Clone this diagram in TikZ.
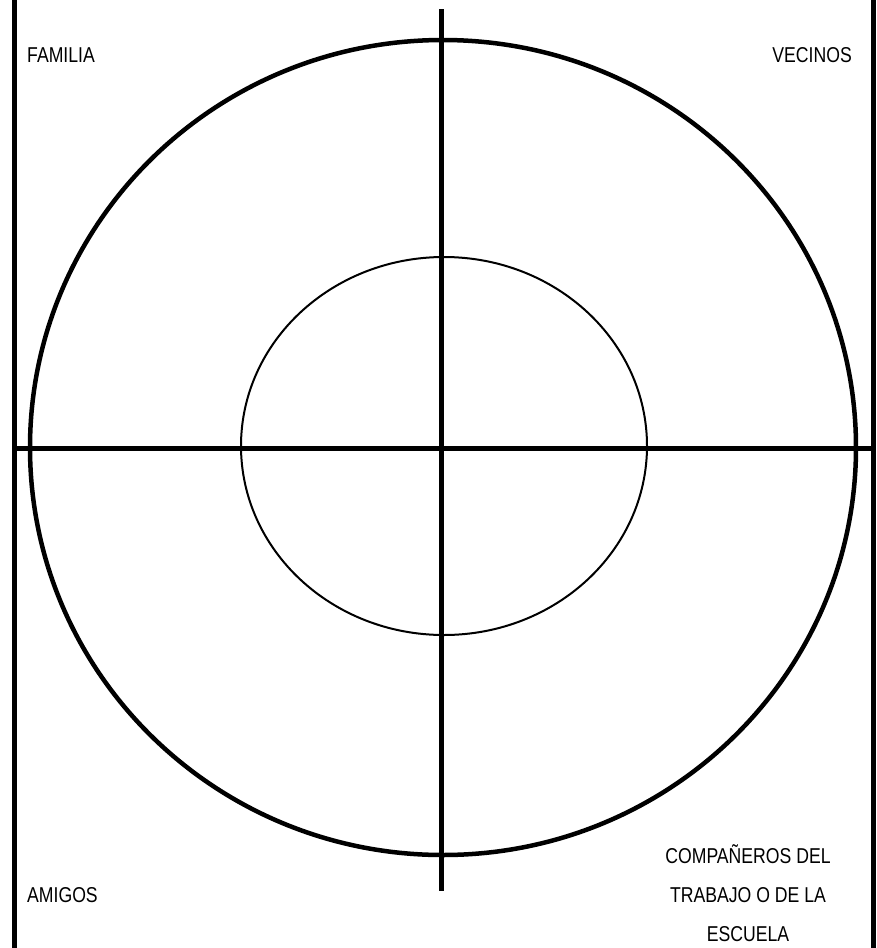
\documentclass[tikz,border=0pt]{standalone}
\usepackage{fontspec}
\setmainfont{Liberation Sans}[FakeStretch=0.82]
\usetikzlibrary{positioning}
\tikzset{
  mapframe/.style={line width=5pt,draw=black},
  mapaxis/.style={line width=5pt,draw=black},
  mapring/.style={line width=4.5pt,draw=black},
  mapcore/.style={line width=2pt,draw=black},
  maplabel/.style={inner sep=0pt,font=\fontsize{21.5}{39}\selectfont,align=center}
}

\begin{document}
\begin{tikzpicture}[x=1pt,y=-1pt]
    \useasboundingbox (0,0) rectangle (877,948);
    % side frame
    \coordinate (nw) at (14.5,0);
    \coordinate (sw) at (14.5,948);
    \coordinate (ne) at (873.5,0);
    \coordinate (se) at (873.5,948);
    \draw[mapframe] (nw) -- (sw);
    \draw[mapframe] (ne) -- (se);
    % rings
    \coordinate (centre) at (443,447.5);
    \coordinate (core) at (444,446);
    \draw[mapring] (centre) ellipse [x radius=413, y radius=407.5];
    \draw[mapcore] (core) ellipse [x radius=203, y radius=189];
    % axes
    \coordinate (top) at (441,9);
    \coordinate (bottom) at (441,891);
    \coordinate (west) at (14.5,448);
    \coordinate (east) at (873.5,448);
    \draw[mapaxis] (top) -- (bottom);
    \draw[mapaxis] (west) -- (east);
    % quadrant labels
    \node[maplabel,anchor=base west] (familia) at (27,62) {FAMILIA};
    \node[maplabel,anchor=base east] (vecinos) at (852,62) {VECINOS};
    \node[maplabel,anchor=base west] (amigos) at (27,902) {AMIGOS};
    \node[maplabel,anchor=base] (companeros) at (748,941) {COMPAÑEROS DEL\\TRABAJO O DE LA\\ESCUELA};
\end{tikzpicture}
\end{document}
